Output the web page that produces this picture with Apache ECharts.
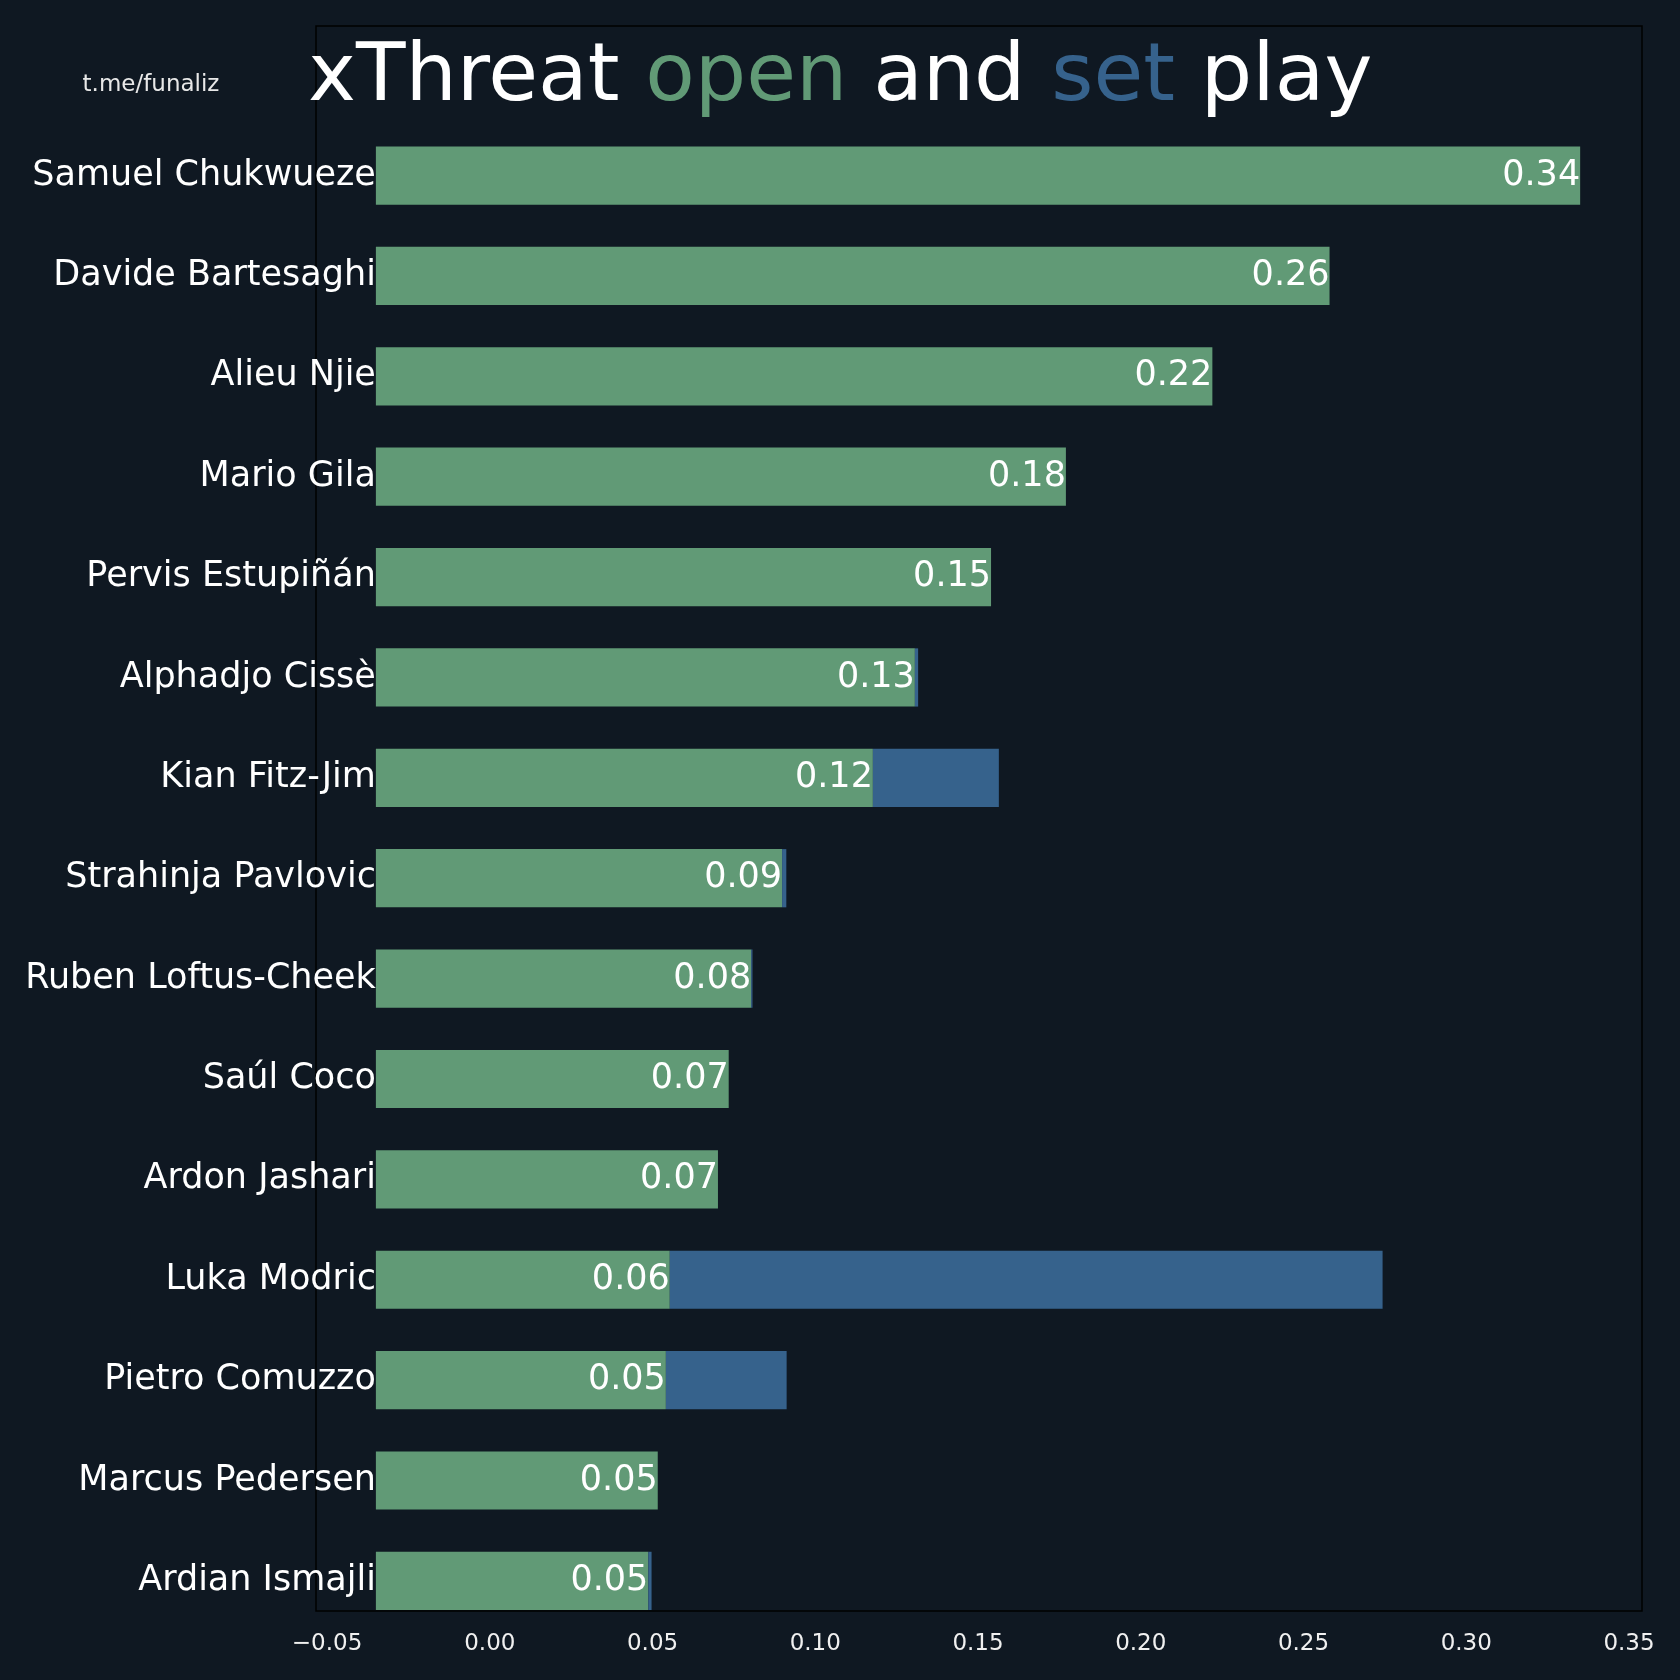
<!DOCTYPE html>
<html>
<head>
<meta charset="utf-8">
<title>xThreat open and set play</title>
<script src="https://cdn.jsdelivr.net/npm/echarts@6.0.0/dist/echarts.min.js"></script>
<style>
	html, body { margin: 0; padding: 0; background: #0f1822; }
	#chart { width: 1680px; height: 1680px; }
</style>
</head>
<body>
<div id="chart"></div>
<script>
// players, top to bottom
var players = ['Samuel Chukwueze', 'Davide Bartesaghi', 'Alieu Njie', 'Mario Gila', 'Pervis Estupiñán',
	'Alphadjo Cissè', 'Kian Fitz-Jim', 'Strahinja Pavlovic', 'Ruben Loftus-Cheek', 'Saúl Coco',
	'Ardon Jashari', 'Luka Modric', 'Pietro Comuzzo', 'Marcus Pedersen', 'Ardian Ismajli'];
// xThreat from open play
var openPlay = [0.335, 0.258, 0.222, 0.177, 0.154, 0.1306, 0.1177, 0.0898, 0.0803, 0.0734,
	0.0701, 0.0553, 0.0541, 0.0516, 0.0487];
// xThreat from set play
var setPlay = [0, 0, 0, 0, 0, 0.0010, 0.0387, 0.0013, 0.0004, 0,
	0, 0.219, 0.0371, 0, 0.0010];
var xTicks = [-0.05, 0, 0.05, 0.10, 0.15, 0.20, 0.25, 0.30, 0.35];

var BAR_LEFT = -0.035;   // bars start here, not at 0
var BAR_HEIGHT = 0.58;
var openColor = '#619a76';
var setColor = '#36628c';
var bgColor = '#0f1822';
var fontName = 'DejaVu Sans';

var chartData = [];
for (var i = 0; i < players.length; i++) {
	chartData.push([i, openPlay[i], setPlay[i]]);
}

function renderBar(params, api) {
	var idx = api.value(0);
	var open = api.value(1);
	var set = api.value(2);
	var p0 = api.coord([BAR_LEFT, idx]);
	var p1 = api.coord([open, idx]);
	var p2 = api.coord([open + set, idx]);
	var h = api.size([0, BAR_HEIGHT])[1];
	var children = [];
	children.push({
		type: 'rect',
		shape: { x: p0[0], y: p0[1] - h / 2, width: p1[0] - p0[0], height: h },
		style: { fill: openColor }
	});
	if (set > 0) {
		children.push({
			type: 'rect',
			shape: { x: p1[0], y: p1[1] - h / 2, width: p2[0] - p1[0], height: h },
			style: { fill: setColor }
		});
	}
	//player name, right aligned at bar start
	children.push({
		type: 'text',
		x: p0[0], y: p0[1],
		style: {
			text: players[idx], fill: '#ffffff', font: '35px "' + fontName + '"',
			align: 'right', verticalAlign: 'middle'
		}
	});
	//open play value at bar end
	children.push({
		type: 'text',
		x: p1[0], y: p1[1],
		style: {
			text: open.toFixed(2), fill: '#ffffff', font: '35px "' + fontName + '"',
			align: 'right', verticalAlign: 'middle'
		}
	});
	return { type: 'group', children: children };
}

var myChart = echarts.init(document.getElementById('chart'));
var option = {
	backgroundColor: bgColor,
	animation: false,
	textStyle: { fontFamily: fontName },
	title: {
		left: 303,
		top: 33,
		text: '{w|xThreat }{g|open}{w| and }{s|set}{w| play}',
		textStyle: {
			fontWeight: 'normal',
			rich: {
				w: { color: '#ffffff', fontSize: 81, lineHeight: 81, fontFamily: fontName, fontWeight: 'normal' },
				g: { color: openColor, fontSize: 81, lineHeight: 81, fontFamily: fontName, fontWeight: 'normal' },
				s: { color: setColor, fontSize: 81, lineHeight: 81, fontFamily: fontName, fontWeight: 'normal' }
			}
		}
	},
	graphic: [{
		type: 'text',
		x: 151, y: 85,
		style: {
			text: 't.me/funaliz', fill: '#e8e8e8', font: '23px "' + fontName + '"',
			align: 'center', verticalAlign: 'middle'
		}
	}],
	grid: {
		left: 316, right: 38, top: 26, bottom: 69,
		show: true,
		borderColor: '#000000',
		borderWidth: 1.5,
		backgroundColor: 'transparent'
	},
	xAxis: {
		type: 'value',
		min: -0.0534,
		max: 0.354,
		splitLine: { show: false },
		axisLine: { show: false },
		axisTick: { show: false },
		axisLabel: {
			customValues: xTicks,
			color: '#f0f0f0',
			fontSize: 23,
			fontFamily: fontName,
			margin: 22,
			formatter: function(v) {
				return v < 0 ? '\u2212' + Math.abs(v).toFixed(2) : v.toFixed(2);
			}
		}
	},
	yAxis: {
		type: 'value',
		inverse: true,
		min: -1.49,
		max: 14.3,
		show: false
	},
	series: [{
		type: 'custom',
		renderItem: renderBar,
		encode: { x: [1, 2], y: 0 },
		data: chartData
	}]
};
myChart.setOption(option);
</script>
</body>
</html>
